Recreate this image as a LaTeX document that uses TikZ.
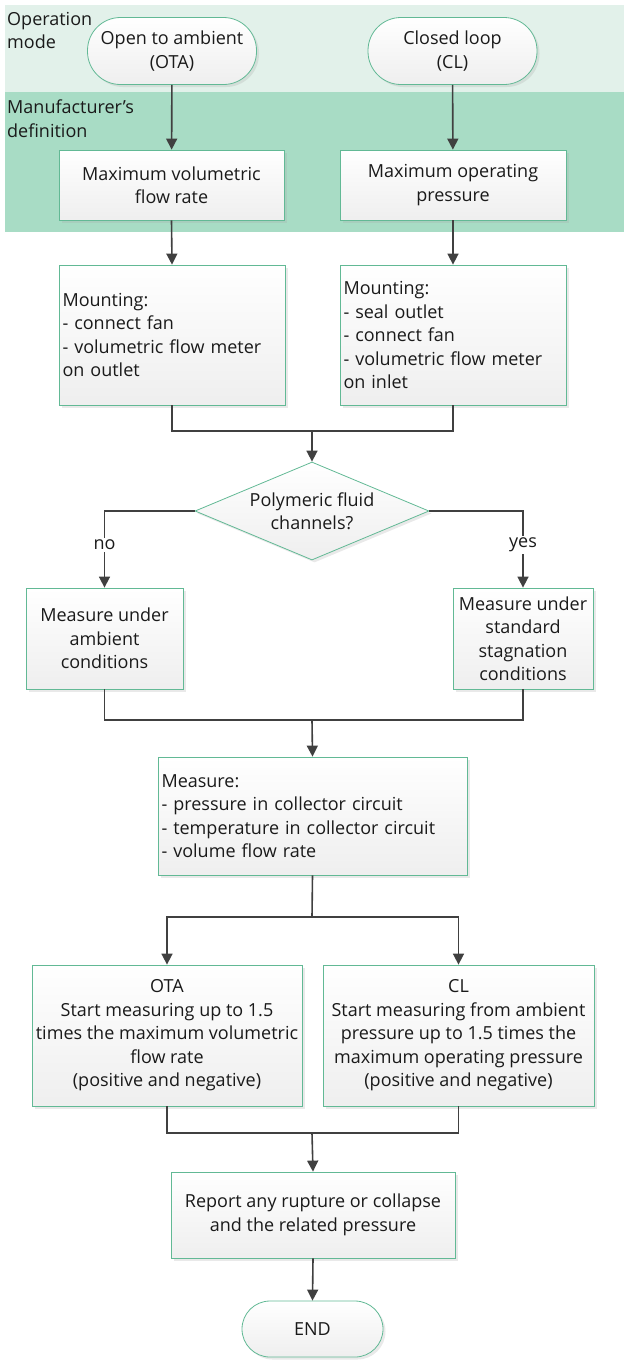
\documentclass[tikz,border=0pt]{standalone}
\usepackage{fontspec}
\setmainfont{Open Sans}
\usetikzlibrary{shapes.geometric,arrows.meta,shadows}
\definecolor{bandA}{HTML}{E2F1EA}
\definecolor{bandB}{HTML}{A8DCC5}
\definecolor{edgeC}{HTML}{62B995}
\definecolor{lineC}{HTML}{404040}
\definecolor{txtC}{HTML}{1A1A1A}
\begin{document}
\begin{tikzpicture}[x=1pt,y=-1pt,
  font=\fontsize{18}{23.5}\selectfont, text=txtC,
  box/.style={draw=edgeC, line width=0.8pt, top color=white, bottom color=gray!13,
    drop shadow={shadow xshift=2.5pt, shadow yshift=-2.5pt, opacity=0.25, fill=gray!70},
    inner sep=3pt, align=center},
  termbox/.style={box, rounded corners=#1},
  lbl/.style={align=left, inner sep=0pt, anchor=north west},
  arr/.style={draw=lineC, line width=1.6pt, -{Triangle[length=11pt,width=11pt]}},
  conn/.style={draw=lineC, line width=1.6pt}]
\useasboundingbox (0,0) rectangle (624,1361);
\fill[bandA] (5,5) rectangle (624,92);
\fill[bandB] (5,92) rectangle (624,232);
\node[lbl] (opmode) at (7,12) {Operation\\mode};
\node[lbl] (mandef) at (7,100) {Manufacturer’s\\definition};

\node[termbox=33pt, minimum width=169pt, minimum height=67pt] (ota) at (172,51) {Open to ambient\\(OTA)};
\node[termbox=33pt, minimum width=169pt, minimum height=67pt] (clt) at (452.5,51) {Closed loop\\(CL)};

\node[box, minimum width=225pt, minimum height=70pt] (mvf) at (171.5,185) {Maximum volumetric\\flow rate};
\node[box, minimum width=226pt, minimum height=70pt] (mop) at (453,185) {Maximum operating\\pressure};

\node[box, minimum width=226pt, minimum height=140pt, align=left, text width=219pt] (mountL) at (172,335) {Mounting:\\- connect fan\\- volumetric flow meter\\on outlet};
\node[box, minimum width=226pt, minimum height=140pt, align=left, text width=219pt] (mountR) at (453,335) {Mounting:\\- seal outlet\\- connect fan\\- volumetric flow meter\\on inlet};

\node[box, diamond, shape aspect=2.39, minimum width=234pt, minimum height=98pt, inner sep=0pt] (dia) at (312,511) {Polymeric fluid\\channels?};

\node[box, minimum width=157pt, minimum height=101pt] (amb) at (104.5,638.5) {Measure under\\ambient\\conditions};
\node[box, minimum width=140pt, minimum height=101pt] (stag) at (523,638.5) {Measure under\\standard\\stagnation\\conditions};

\node[box, minimum width=309pt, minimum height=118pt, align=left, text width=302pt] (meas) at (312.5,816) {Measure:\\- pressure in collector circuit\\- temperature in collector circuit\\- volume flow rate};

\node[box, minimum width=270pt, minimum height=141pt, inner sep=2pt] (otab) at (167,1035.5) {OTA\\Start measuring up to 1.5\\times the maximum volumetric\\flow rate\\(positive and negative)};
\node[box, minimum width=271pt, minimum height=141pt, inner sep=2pt] (clb) at (458.5,1035.5) {CL\\Start measuring from ambient\\pressure up to 1.5 times the\\maximum operating pressure\\(positive and negative)};

\node[box, minimum width=284pt, minimum height=86pt] (rep) at (313,1215) {Report any rupture or collapse\\and the related pressure};
\node[termbox=28pt, minimum width=141pt, minimum height=56pt] (endn) at (312.5,1329) {END};

\coordinate (j1) at (312,431);
\coordinate (j2) at (312,720);
\coordinate (j3) at (312,917);
\coordinate (j4) at (312,1133);

\draw[arr] (ota) -- (mvf);
\draw[arr] (clt) -- (mop);
\draw[arr] (mvf.south) -- (mountL.north);
\draw[arr] (mop.south) -- (mountR.north);
\draw[conn] (mountL.south) |- (j1);
\draw[conn] (mountR.south) |- (j1);
\draw[arr] (j1) -- (dia.north);
\draw[arr] (dia.west) -| node[pos=0.72, fill=white, inner sep=2pt] {no} (amb.north);
\draw[arr] (dia.east) -| node[pos=0.72, fill=white, inner sep=2pt] {yes} (stag.north);
\draw[conn] (amb.south) |- (j2);
\draw[conn] (stag.south) |- (j2);
\draw[arr] (j2) -- (meas.north);
\draw[conn] (meas.south) -- (j3);
\draw[arr] (j3) -| (otab.north);
\draw[arr] (j3) -| (clb.north);
\draw[conn] (otab.south) |- (j4);
\draw[conn] (clb.south) |- (j4);
\draw[arr] (j4) -- (rep.north);
\draw[arr] (rep.south) -- (endn.north);
\end{tikzpicture}
\end{document}
